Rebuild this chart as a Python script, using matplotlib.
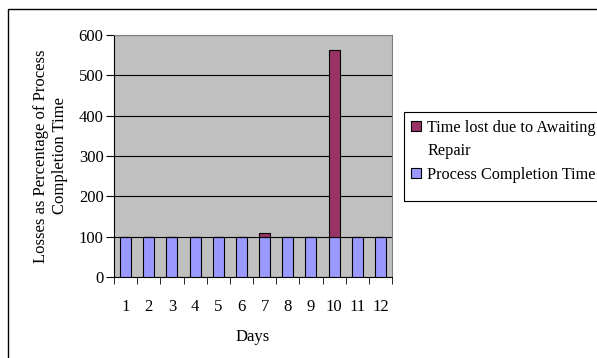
import numpy as np
import matplotlib.pyplot as plt
from matplotlib.patches import Rectangle

# data
days = ['1', '2', '3', '4', '5', '6', '7', '8', '9', '10', '11', '12']
process_time = [100, 100, 100, 100, 100, 100, 100, 100, 100, 100, 100, 100]
awaiting_repair = [0, 0, 0, 0, 0, 0, 9, 0, 0, 463, 0, 0]
series_names = ['Time lost due to Awaiting', 'Repair', 'Process Completion Time']

col_repair = '#993366'
col_process = '#9999ff'

plt.rcParams['font.family'] = ['Liberation Serif', 'DejaVu Serif']
plt.rcParams['font.size'] = 12

W, H = 597, 358
fig = plt.figure(figsize=(W / 100, H / 100), dpi=100)


def fx(px):
    return px / W


def fy(py):
    return 1 - py / H


ax = fig.add_axes([fx(114), fy(277), 278 / W, 242 / H])
ax.set_facecolor('#c0c0c0')

x = np.arange(len(days))
w = 0.47
ax.bar(x, process_time, w, color=col_process, edgecolor='black', linewidth=0.8, zorder=3)
ax.bar(x, awaiting_repair, w, bottom=process_time, color=col_repair,
       edgecolor='black', linewidth=0.8, zorder=3)

ax.set_xlim(-0.5, len(days) - 0.5)
ax.set_ylim(0, 600)
ax.set_yticks(range(0, 601, 100))
ax.grid(axis='y', color='black', linewidth=0.8, zorder=1)

ax.set_xticks(x)
ax.set_xticklabels(days)
ax.set_xticks(np.arange(-0.5, len(days), 1), minor=True)
ax.tick_params(axis='x', which='major', length=0, pad=16)
ax.tick_params(axis='x', which='minor', length=5, direction='out')
ax.tick_params(axis='y', length=5.5, direction='out', pad=2)

for side in ['top', 'right']:
    ax.spines[side].set_color('#808080')
    ax.spines[side].set_linewidth(0.8)
ax.spines['left'].set_color('black')
ax.spines['bottom'].set_color('black')

ax.set_xlabel('Days', labelpad=10)
ax.set_ylabel('Losses as Percentage of Process\nCompletion Time', labelpad=8)

# legend drawn by hand, Excel style (square aligned with the first line)
fig.patches.append(Rectangle((fx(404), fy(201)), 0.5, 89 / H,
                             transform=fig.transFigure, fill=False,
                             edgecolor='black', linewidth=0.8))
for y_sq, col in [(126, col_repair), (172.5, col_process)]:
    fig.patches.append(Rectangle((fx(410.5), fy(y_sq + 5)), 10 / W, 10 / H,
                                 transform=fig.transFigure, facecolor=col,
                                 edgecolor='black', linewidth=0.8))
for y_txt, name in zip([126, 149.5, 173], series_names):
    fig.text(fx(427), fy(y_txt), name, fontsize=11.7, va='center_baseline', ha='left')

# outer chart border
fig.patches.append(Rectangle((fx(8), -0.01), 1.0, 1 - 9 / H + 0.01,
                             transform=fig.transFigure, fill=False,
                             edgecolor='black', linewidth=1.0))

fig.savefig('out.png', dpi=100)
